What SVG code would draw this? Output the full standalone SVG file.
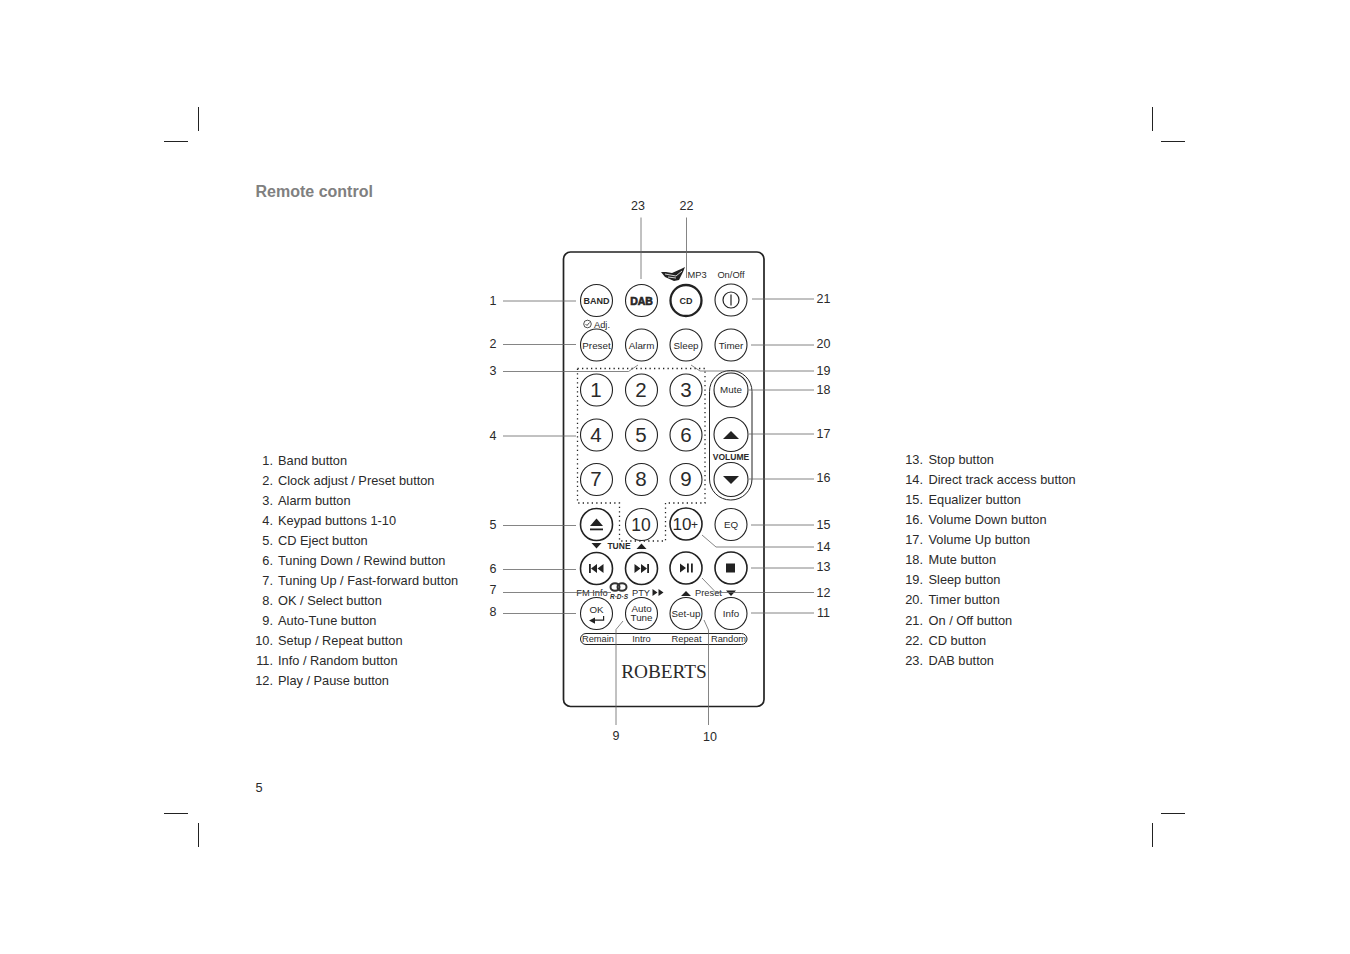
<svg xmlns="http://www.w3.org/2000/svg" width="1350" height="954" viewBox="0 0 1350 954">
<style>
text{font-family:"Liberation Sans",Arial,sans-serif;fill:#2a2a2a}
.t{font-size:12.8px}
.n{font-size:12.8px;text-anchor:end}
.c{font-size:12.5px;text-anchor:middle}
.b{fill:#fff;stroke:#222;stroke-width:1.1}
.bb{fill:#fff;stroke:#222;stroke-width:1.6}
.l{fill:none;stroke:#666;stroke-width:.8}
.k{font-size:20.500px;text-anchor:middle}
.s{font-size:9.800px;text-anchor:middle}
.m{font-size:9.300px;text-anchor:middle}
.d{fill:none;stroke:#222;stroke-width:1.300;stroke-dasharray:1.300 3.200}
.f{fill:#222}
.crop{stroke:#222;stroke-width:1;fill:none}
</style>
<rect width="1350" height="954" fill="#fff"/>
<g id="crop-marks" class="crop">
<path d="M198.500 107V131M164 141.500H188M1152.500 107V131M1161 141.500H1185M198.500 823V847M164 813.500H188M1152.500 823V847M1161 813.500H1185"/>
</g>
<text x="255.500" y="197" style="font-size:16px;font-weight:bold;fill:#808080">Remote control</text>
<text x="255.500" y="792" class="t">5</text>
<g id="list-left">
<text x="273" y="465" class="n">1.</text><text x="278" y="465" class="t">Band button</text>
<text x="273" y="485" class="n">2.</text><text x="278" y="485" class="t">Clock adjust / Preset button</text>
<text x="273" y="505" class="n">3.</text><text x="278" y="505" class="t">Alarm button</text>
<text x="273" y="525" class="n">4.</text><text x="278" y="525" class="t">Keypad buttons 1-10</text>
<text x="273" y="545" class="n">5.</text><text x="278" y="545" class="t">CD Eject button</text>
<text x="273" y="565" class="n">6.</text><text x="278" y="565" class="t">Tuning Down / Rewind button</text>
<text x="273" y="585" class="n">7.</text><text x="278" y="585" class="t">Tuning Up / Fast-forward button</text>
<text x="273" y="605" class="n">8.</text><text x="278" y="605" class="t">OK / Select button</text>
<text x="273" y="625" class="n">9.</text><text x="278" y="625" class="t">Auto-Tune button</text>
<text x="273" y="645" class="n">10.</text><text x="278" y="645" class="t">Setup / Repeat button</text>
<text x="273" y="665" class="n">11.</text><text x="278" y="665" class="t">Info / Random button</text>
<text x="273" y="685" class="n">12.</text><text x="278" y="685" class="t">Play / Pause button</text>
</g>
<g id="list-right">
<text x="923" y="464" class="n">13.</text><text x="928.500" y="464" class="t">Stop button</text>
<text x="923" y="484" class="n">14.</text><text x="928.500" y="484" class="t">Direct track access button</text>
<text x="923" y="504" class="n">15.</text><text x="928.500" y="504" class="t">Equalizer button</text>
<text x="923" y="524" class="n">16.</text><text x="928.500" y="524" class="t">Volume Down button</text>
<text x="923" y="544" class="n">17.</text><text x="928.500" y="544" class="t">Volume Up button</text>
<text x="923" y="564" class="n">18.</text><text x="928.500" y="564" class="t">Mute button</text>
<text x="923" y="584" class="n">19.</text><text x="928.500" y="584" class="t">Sleep button</text>
<text x="923" y="604" class="n">20.</text><text x="928.500" y="604" class="t">Timer button</text>
<text x="923" y="625" class="n">21.</text><text x="928.500" y="625" class="t">On / Off button</text>
<text x="923" y="645" class="n">22.</text><text x="928.500" y="645" class="t">CD button</text>
<text x="923" y="665" class="n">23.</text><text x="928.500" y="665" class="t">DAB button</text>
</g>
<g id="remote-body">
<rect x="563.500" y="252" width="200.500" height="454.500" rx="7" fill="#fff" stroke="#222" stroke-width="1.700"/>
<rect x="709.500" y="370.500" width="42.500" height="129.500" rx="21" fill="none" stroke="#222" stroke-width="1"/>
<rect x="580.500" y="633.500" width="166.500" height="11" rx="5.500" fill="none" stroke="#222" stroke-width="1"/>
<path class="d" d="M577.500 368.500H705V503H665.500V541H619.500V503H577.500Z"/>
<text x="664" y="678" style="font-family:'Liberation Serif',serif;font-size:19.300px;text-anchor:middle">ROBERTS</text>
</g>
<g id="panel-labels">
<text x="697" y="278" class="m">MP3</text><text x="731" y="278" class="m">On/Off</text>
<path class="f" d="M661 272l5 0 6 1 9-4 4-2-2 5-4 8-5 1-9-4z"/><path d="M665 274l11 2 6-5M668 277l8 1" stroke="#fff" stroke-width=".8" fill="none"/>
<circle cx="587.500" cy="324" r="3.800" fill="none" stroke="#222" stroke-width=".8"/><path d="M585.500 324l1.500 1.500 2.500-3" fill="none" stroke="#222" stroke-width=".8"/>
<text x="602" y="328" class="m">Adj.</text>
<text x="731" y="460" style="font-size:8.500px;font-weight:bold;text-anchor:middle">VOLUME</text>
<path class="f" d="M591.500 543h10l-5 5.500zM636.500 549l5-5.500 5 5.500z"/>
<text x="619" y="549" style="font-size:8.500px;font-weight:bold;text-anchor:middle">TUNE</text>
<text x="592" y="596" class="m">FM Info</text>
<text x="619" y="599" style="font-size:6.500px;font-weight:bold;font-style:italic;text-anchor:middle">R·D·S</text>
<ellipse cx="615" cy="587" rx="4.500" ry="3.800" fill="none" stroke="#333" stroke-width="2"/><ellipse cx="622" cy="587" rx="4.500" ry="3.800" fill="none" stroke="#333" stroke-width="2"/>
<text x="641" y="596" class="m">PTY</text><path class="f" d="M652.500 589l5 3.500-5 3.500zM658.500 589l5 3.500-5 3.500z"/>
<path class="f" d="M681 596l5-5 5 5zM726 590.500h10l-5 5.500z"/>
<text x="708.500" y="596" class="m">Preset</text>
<text x="598" y="642" class="m">Remain</text><text x="641.500" y="642" class="m">Intro</text><text x="686.500" y="642" class="m">Repeat</text><text x="728.500" y="642" class="m">Random</text>
</g>
<g id="btn-band"><circle class="b" cx="596.500" cy="300.500" r="16"/><text x="596.500" y="304" style="font-size:9px;font-weight:bold;text-anchor:middle">BAND</text></g>
<g id="btn-dab"><circle class="b" cx="641.500" cy="300.500" r="16"/><text x="641.500" y="304.500" style="font-size:10.500px;font-weight:900;text-anchor:middle;stroke:#222;stroke-width:.6">DAB</text></g>
<g id="btn-cd"><circle cx="686" cy="300.500" r="15.500" fill="#fff" stroke="#222" stroke-width="2.300"/><text x="686" y="304" style="font-size:9px;font-weight:bold;text-anchor:middle">CD</text></g>
<g id="btn-onoff"><circle class="b" cx="731" cy="300" r="16"/><circle cx="731" cy="300" r="8" fill="none" stroke="#222" stroke-width="1.200"/><path d="M731 294.500V305.500" stroke="#222" stroke-width="1.200"/></g>
<g id="btn-preset"><circle class="b" cx="596.500" cy="345" r="16"/><text x="596.500" y="348.500" class="s">Preset</text></g>
<g id="btn-alarm"><circle class="b" cx="641.500" cy="345" r="16"/><text x="641.500" y="348.500" class="s">Alarm</text></g>
<g id="btn-sleep"><circle class="b" cx="686" cy="345" r="16"/><text x="686" y="348.500" class="s">Sleep</text></g>
<g id="btn-timer"><circle class="b" cx="731" cy="345" r="16"/><text x="731" y="348.500" class="s">Timer</text></g>
<g id="btn-1"><circle class="b" cx="596.500" cy="390" r="16"/><text x="596" y="397" class="k">1</text></g>
<g id="btn-2"><circle class="b" cx="641.500" cy="390" r="16"/><text x="641" y="397" class="k">2</text></g>
<g id="btn-3"><circle class="b" cx="686" cy="390" r="16"/><text x="686" y="397" class="k">3</text></g>
<g id="btn-4"><circle class="b" cx="596.500" cy="435" r="16"/><text x="596" y="441.500" class="k">4</text></g>
<g id="btn-5"><circle class="b" cx="641.500" cy="435" r="16"/><text x="641" y="441.500" class="k">5</text></g>
<g id="btn-6"><circle class="b" cx="686" cy="435" r="16"/><text x="686" y="441.500" class="k">6</text></g>
<g id="btn-7"><circle class="b" cx="596.500" cy="479.500" r="16"/><text x="596" y="486" class="k">7</text></g>
<g id="btn-8"><circle class="b" cx="641.500" cy="479.500" r="16"/><text x="641" y="486" class="k">8</text></g>
<g id="btn-9"><circle class="b" cx="686" cy="479.500" r="16"/><text x="686" y="486" class="k">9</text></g>
<g id="btn-mute"><circle class="b" cx="731" cy="390" r="17"/><text x="731" y="393" class="s">Mute</text></g>
<g id="btn-volup"><circle class="b" cx="731" cy="434.500" r="17"/><path class="f" d="M723 439l8-8 8 8z"/></g>
<g id="btn-voldown"><circle class="b" cx="731" cy="479.500" r="17"/><path class="f" d="M723 476h16l-8 8z"/></g>
<g id="btn-eject"><circle class="bb" cx="596.500" cy="524.500" r="16"/><path class="f" d="M590 526l6.500-7.500 6.500 7.500z"/><rect class="f" x="590" y="528.500" width="13" height="1.800"/></g>
<g id="btn-10"><circle class="b" cx="641.500" cy="524.500" r="16"/><text x="641" y="530.500" style="font-size:17.500px;text-anchor:middle">10</text></g>
<g id="btn-10plus"><circle class="bb" cx="686" cy="524" r="16"/><text x="682" y="530" style="font-size:17px;text-anchor:middle">10</text><text x="694.500" y="529" style="font-size:12px;text-anchor:middle">+</text></g>
<g id="btn-eq"><circle class="b" cx="731" cy="524.500" r="16"/><text x="731" y="528" class="s">EQ</text></g>
<g id="btn-rewind"><circle class="bb" cx="596.500" cy="568.500" r="16"/><path class="f" d="M589 564h1.800v9H589zM597 564v9l-6-4.500zM603.500 564v9l-6-4.500z"/></g>
<g id="btn-ffwd"><circle class="bb" cx="641.500" cy="568.500" r="16"/><path class="f" d="M634.500 564v9l6-4.500zM641 564v9l6-4.500zM647.200 564h1.800v9h-1.800z"/></g>
<g id="btn-play"><circle class="bb" cx="686" cy="568" r="16"/><path class="f" d="M680 563.500v9l6-4.500zM687 563.500h1.800v9H687zM691 563.500h1.800v9H691z"/></g>
<g id="btn-stop"><circle class="bb" cx="731" cy="568" r="16"/><rect class="f" x="726" y="563.500" width="9" height="9"/></g>
<g id="btn-ok"><circle class="b" cx="596.500" cy="613.500" r="16"/><text x="596.500" y="612.500" class="s">OK</text><path class="f" d="M589 620.500l6-3v2h8v-3.500h1.200v4.700h-9.200v3z"/></g>
<g id="btn-autotune"><circle class="b" cx="641.500" cy="613.500" r="16"/><text x="641.500" y="612" class="s">Auto</text><text x="641.500" y="621" class="s">Tune</text></g>
<g id="btn-setup"><circle class="b" cx="686" cy="613.500" r="16"/><text x="686" y="616.500" class="s">Set-up</text></g>
<g id="btn-info"><circle class="b" cx="731" cy="613.500" r="16"/><text x="731" y="616.500" class="s">Info</text></g>
<g id="connectors" class="l">
<path d="M503 301H576M503 344.500H576M503 371.500H628.500L638 365M503 436H576M503 525.500H576M503 569.500H576M503 592.500H611M503 613.500H576"/>
<path d="M641 217.500V279M686.500 217.500V278"/>
<path d="M616 725V629.500L623 621M708.500 725V630L704 620"/>
<path d="M752 299H814M751 345H814M691 365L700 371H814M749 390H814M749 434H814M749 479H814M751 525H814M702 535L716 547H814M751 568H814M702 578L716 592.500H814M751 613H814"/>
</g>
<g id="callouts">
<text x="493" y="305" class="c">1</text><text x="493" y="348" class="c">2</text><text x="493" y="375" class="c">3</text><text x="493" y="440" class="c">4</text><text x="493" y="529" class="c">5</text><text x="493" y="573" class="c">6</text><text x="493" y="594" class="c">7</text><text x="493" y="616" class="c">8</text>
<text x="616" y="740" class="c">9</text><text x="710" y="741" class="c">10</text>
<text x="823.500" y="616.500" class="c">11</text><text x="823.500" y="597" class="c">12</text><text x="823.500" y="571" class="c">13</text><text x="823.500" y="551" class="c">14</text><text x="823.500" y="529" class="c">15</text><text x="823.500" y="482" class="c">16</text><text x="823.500" y="438" class="c">17</text><text x="823.500" y="394" class="c">18</text><text x="823.500" y="375" class="c">19</text><text x="823.500" y="348" class="c">20</text><text x="823.500" y="303" class="c">21</text>
<text x="686.500" y="210" class="c">22</text><text x="638" y="210" class="c">23</text>
</g>
</svg>
